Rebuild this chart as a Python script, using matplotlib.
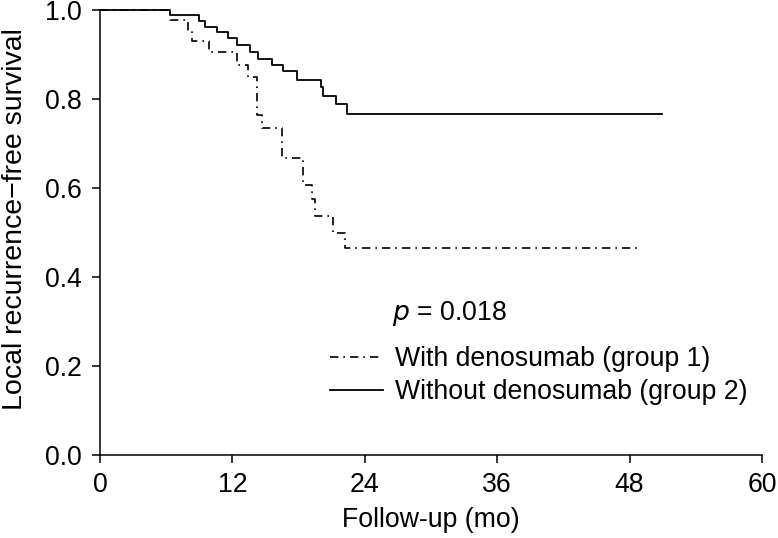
import matplotlib
matplotlib.use("Agg")
import matplotlib.pyplot as plt
from matplotlib.lines import Line2D

plt.rcParams['font.family'] = ['Liberation Sans', 'DejaVu Sans']

# Group 1: with denosumab (dash-dot)
g1_time = [0, 6.3, 8.0, 8.3, 9.9, 12.4, 13.4, 14.2, 14.7, 16.5, 18.4, 19.2, 19.5, 21.1, 22.2, 49.0]
g1_surv = [1.0, 0.978, 0.955, 0.930, 0.905, 0.876, 0.850, 0.765, 0.735, 0.668, 0.607, 0.575, 0.537, 0.500, 0.465, 0.465]

# Group 2: without denosumab (solid)
g2_time = [0, 6.3, 9.0, 9.5, 10.6, 11.6, 12.4, 13.6, 14.3, 15.6, 16.6, 17.9, 20.0, 20.2, 21.4, 22.4, 50.9]
g2_surv = [1.0, 0.989, 0.976, 0.962, 0.950, 0.936, 0.921, 0.906, 0.891, 0.876, 0.863, 0.843, 0.826, 0.807, 0.788, 0.767, 0.767]

labels = ["With denosumab (group 1)", "Without denosumab (group 2)"]
x_ticks = [0, 12, 24, 36, 48, 60]
y_ticks = [0.0, 0.2, 0.4, 0.6, 0.8, 1.0]
y_ticklabels = ["0.0", "0.2", "0.4", "0.6", "0.8", "1.0"]
p_text = "$\\it{p}$ = 0.018"

FS = 19.2

fig = plt.figure(figsize=(7.78, 5.38), dpi=100)
ax = fig.add_axes([100/778, (538-455)/538, 662/778, 445/538])

ax.step(g1_time, g1_surv, where='post', color='black', lw=1.2,
        linestyle=(0, (5, 3, 1, 3)), clip_on=False, label=labels[0])
ax.step(g2_time, g2_surv, where='post', color='black', lw=1.3,
        linestyle='-', clip_on=False, label=labels[1])

ax.set_xlim(0, 60)
ax.set_ylim(0, 1.0)
ax.set_xticks(x_ticks)
ax.set_xticklabels([str(t) for t in x_ticks])
ax.set_yticks(y_ticks)
ax.set_yticklabels(y_ticklabels)
for s in ['top', 'right']:
    ax.spines[s].set_visible(False)
for s in ['left', 'bottom']:
    ax.spines[s].set_linewidth(1.1)
ax.tick_params(axis='both', direction='out', length=6, width=1.1, labelsize=FS)
ax.tick_params(axis='y', pad=7)
ax.tick_params(axis='x', pad=6)

ax.set_xlabel("Follow-up (mo)", fontsize=FS, labelpad=7)
ax.set_ylabel("Local recurrence\u2212free survival", fontsize=20.5)
ax.yaxis.set_label_coords(-0.109, 0.53)

ax.text(26.5, 0.318, p_text, fontsize=FS, va='center', ha='left')

handles = [Line2D([], [], color='black', lw=1.2, linestyle=(0, (5, 3, 1, 3))),
           Line2D([], [], color='black', lw=1.3, linestyle='-')]
ax.legend(handles, labels, loc='upper left', bbox_to_anchor=(20.85, 0.245),
          bbox_transform=ax.transData, frameon=False, fontsize=FS,
          handlelength=2.0, handletextpad=0.45, labelspacing=0.27,
          borderpad=0, borderaxespad=0)

fig.savefig("out.png", dpi=100)
